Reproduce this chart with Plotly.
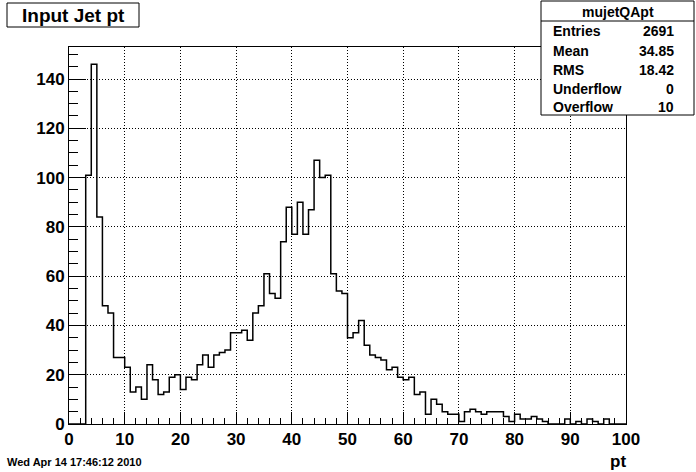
import plotly.graph_objects as go

# ---- data (100 bins of width 1 on [0,100]) ----
bin_edges = list(range(0, 101))
counts = [
    0, 0, 0, 101, 146, 84, 48, 45, 27, 27,
    23, 13, 15, 10, 24, 18, 12, 13, 19, 20,
    14, 19, 18, 24, 28, 23, 28, 29, 30, 37,
    37, 38, 34, 45, 48, 61, 53, 51, 74, 88,
    77, 90, 77, 87, 107, 100, 101, 61, 54, 53,
    35, 37, 42, 32, 28, 27, 26, 22, 23, 19,
    18, 19, 12, 13, 4, 10, 8, 5, 4, 4,
    1, 5, 6, 5, 4, 5, 5, 5, 3, 1,
    4, 2, 2, 3, 2, 1, 0, 0, 0, 2,
    0, 1, 0, 2, 1, 0, 2, 0, 0, 0,
]
x_ticks = [0, 10, 20, 30, 40, 50, 60, 70, 80, 90, 100]
y_ticks = [0, 20, 40, 60, 80, 100, 120, 140]
stat_names = ["Entries", "Mean", "RMS", "Underflow", "Overflow"]
stat_values = ["2691", "34.85", "18.42", "0", "10"]
hist_name = "mujetQApt"
title_text = "Input Jet pt"
x_title = "pt"
date_text = "Wed Apr 14 17:46:12 2010"

# ---- layout geometry ----
W, H = 696, 472
L, R, T, B = 69, 626, 47, 424


def px(xp):
    return (xp - L) / (R - L)


def py(yp):
    return (B - yp) / (B - T)


FONT = "Liberation Sans"

# step outline (ROOT style): y for each left edge, last point closes at right edge
step_x = bin_edges
step_y = counts + [counts[-1]]

fig = go.Figure()
fig.add_trace(go.Scatter(
    x=step_x, y=step_y, mode="lines",
    line=dict(color="black", width=1.5, shape="hv"),
    hoverinfo="skip", showlegend=False,
))

axis_common = dict(
    showline=True, mirror=True, linecolor="black", linewidth=1,
    showgrid=True, gridcolor="black", gridwidth=1, griddash="1px,2px",
    zeroline=False, ticks="inside", tickcolor="black", tickwidth=1,
    tickfont=dict(family=FONT, size=17, color="black", weight="bold"),
)

fig.update_xaxes(
    range=[0, 100], tickmode="array", tickvals=x_ticks,
    ticklen=12,
    minor=dict(ticks="inside", ticklen=6, dtick=2, tickcolor="black", showgrid=False),
    **axis_common,
)
fig.update_yaxes(
    range=[0, 153], tickmode="array", tickvals=y_ticks,
    ticklen=17,
    minor=dict(ticks="inside", ticklen=9, dtick=5, tickcolor="black", showgrid=False),
    **axis_common,
)

shapes = []
annotations = []

# title box
shapes.append(dict(type="rect", xref="paper", yref="paper",
                   x0=px(7), x1=px(139), y0=py(27), y1=py(3),
                   line=dict(color="black", width=1), fillcolor="white", layer="above"))
annotations.append(dict(xref="paper", yref="paper", x=px(73), y=py(15),
                        text=title_text, showarrow=False, xanchor="center", yanchor="middle",
                        font=dict(family=FONT, size=19, color="black", weight="bold")))

# stats box
shapes.append(dict(type="rect", xref="paper", yref="paper",
                   x0=px(541), x1=px(694), y0=py(115), y1=py(1),
                   line=dict(color="black", width=1), fillcolor="white", layer="above"))
shapes.append(dict(type="line", xref="paper", yref="paper",
                   x0=px(541), x1=px(694), y0=py(21), y1=py(21),
                   line=dict(color="black", width=1), layer="above"))
annotations.append(dict(xref="paper", yref="paper", x=px(617.5), y=py(12),
                        text=hist_name, showarrow=False, xanchor="center", yanchor="middle",
                        font=dict(family=FONT, size=14, color="black", weight="bold")))
row_y = [31.5, 50.5, 69.5, 88.5, 107]
for name, val, ry in zip(stat_names, stat_values, row_y):
    annotations.append(dict(xref="paper", yref="paper", x=px(551), y=py(ry),
                            text=name, showarrow=False, xanchor="left", yanchor="middle",
                            font=dict(family=FONT, size=14, color="black", weight="bold")))
    annotations.append(dict(xref="paper", yref="paper", x=px(676), y=py(ry),
                            text=val, showarrow=False, xanchor="right", yanchor="middle",
                            font=dict(family=FONT, size=14, color="black", weight="bold")))

# x axis title
annotations.append(dict(xref="paper", yref="paper", x=px(628), y=py(461),
                        text=x_title, showarrow=False, xanchor="right", yanchor="middle",
                        font=dict(family=FONT, size=17, color="black", weight="bold")))
# date stamp
annotations.append(dict(xref="paper", yref="paper", x=px(5), y=py(462),
                        text=date_text, showarrow=False, xanchor="left", yanchor="middle",
                        font=dict(family=FONT, size=11, color="black", weight="bold")))

fig.update_layout(
    width=W, height=H,
    margin=dict(l=L, r=W - R, t=T, b=H - B, pad=0),
    paper_bgcolor="white", plot_bgcolor="white",
    shapes=shapes, annotations=annotations,
    showlegend=False,
)

fig.write_html(
    "out.html",
    config={"displayModeBar": False},
    post_script="document.body.style.margin='0';document.body.style.padding='0';",
)
